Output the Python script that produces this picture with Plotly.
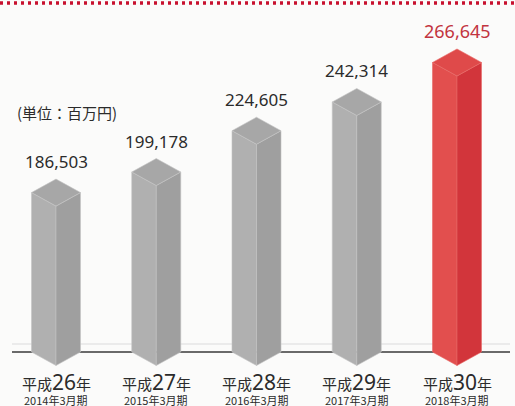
import plotly.graph_objects as go

# ---- data ----
era_names = ["平成", "平成", "平成", "平成", "平成"]
era_years = ["26", "27", "28", "29", "30"]
fiscal_labels = ["2014年3月期", "2015年3月期", "2016年3月期", "2017年3月期", "2018年3月期"]
values = [186503, 199178, 224605, 242314, 266645]
highlight = [False, False, False, False, True]
unit_label = "(単位：百万円)"

# ---- styling / geometry ----
W, H = 515, 406
BASE = 88300            # value where the bar bottoms sit (axis is not zero-based)
UNITS_PER_PX = 616.0
BASE_PX = 352           # pixel row of the baseline
y_top = BASE + BASE_PX * UNITS_PER_PX
y_bot = BASE - (H - BASE_PX) * UNITS_PER_PX
PX_PER_CAT = 100.25
x_left = -56 / PX_PER_CAT
x_right = x_left + W / PX_PER_CAT
half_w = 24.5 / PX_PER_CAT
depth = 13.5 * UNITS_PER_PX

gray = dict(left="#b0b0b0", right="#9f9f9f", top="#a7a7a7", edge="#c4c4c4")
red = dict(left="#e24f4e", right="#d2353b", top="#df4a4a", edge="#e86a66")

fig = go.Figure()

def poly(xs, ys, color, edge):
    fig.add_trace(go.Scatter(x=xs + [xs[0]], y=ys + [ys[0]], fill="toself", mode="lines",
                             fillcolor=color, line=dict(color=edge, width=0.6),
                             hoverinfo="skip", showlegend=False))

for i, v in enumerate(values):
    c = red if highlight[i] else gray
    cx = i
    # left face
    poly([cx - half_w, cx - half_w, cx, cx], [BASE, v, v - depth, BASE - depth], c["left"], c["edge"])
    # right face
    poly([cx, cx, cx + half_w, cx + half_w], [BASE - depth, v - depth, v, BASE], c["right"], c["edge"])
    # top
    poly([cx - half_w, cx, cx + half_w, cx], [v, v + depth, v, v - depth], c["top"], c["edge"])

annotations = []
for i, v in enumerate(values):
    annotations.append(dict(
        x=i, y=v + depth, xref="x", yref="y", text=f"{v:,}", showarrow=False,
        yanchor="bottom", yshift=4,
        font=dict(family="Noto Sans", size=18 if highlight[i] else 17,
                  color="#c23440" if highlight[i] else "#2b2b2b")))
    annotations.append(dict(
        x=i, y=1 - 382 / H, xref="x", yref="paper", showarrow=False, yanchor="middle",
        text=f"{era_names[i]}<span style='font-size:21px;font-family:Noto Sans'>{era_years[i]}</span>年",
        font=dict(family="Noto Sans CJK JP", size=15, color="#2b2b2b")))
    annotations.append(dict(
        x=i, y=1 - 400 / H, xref="x", yref="paper", showarrow=False, yanchor="middle",
        text=fiscal_labels[i],
        font=dict(family="Noto Sans CJK JP", size=11, color="#2b2b2b")))

annotations.append(dict(
    x=15 / W, y=1 - 112 / H, xref="paper", yref="paper", showarrow=False,
    xanchor="left", yanchor="middle", text=unit_label,
    font=dict(family="Noto Sans CJK JP", size=15, color="#2b2b2b")))

shapes = [
    # baseline
    dict(type="line", xref="paper", yref="y", x0=12 / W, x1=510 / W, y0=BASE, y1=BASE,
         line=dict(color="#3a3a3a", width=1.5), layer="below"),
    # faint scan line above baseline
    dict(type="line", xref="paper", yref="paper", x0=12 / W, x1=510 / W,
         y0=1 - 344 / H, y1=1 - 344 / H, line=dict(color="#e6e6e6", width=1.5), layer="below"),
    # red dotted rule at top
    dict(type="line", xref="paper", yref="paper", x0=0, x1=1, y0=1 - 3 / H, y1=1 - 3 / H,
         line=dict(color="#c8102e", width=3.5, dash="3px,4px"), layer="above"),
]

fig.update_layout(
    width=W, height=H,
    margin=dict(l=0, r=0, t=0, b=0),
    paper_bgcolor="#fbfbfa", plot_bgcolor="#fbfbfa",
    xaxis=dict(range=[x_left, x_right], visible=False, fixedrange=True),
    yaxis=dict(range=[y_bot, y_top], visible=False, fixedrange=True),
    annotations=annotations, shapes=shapes, showlegend=False,
)

fig.write_html("out.html", config={"displayModeBar": False},
               post_script="document.body.style.margin='0';document.body.style.overflow='hidden';")
